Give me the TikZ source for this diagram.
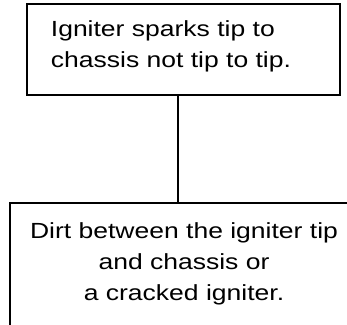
\documentclass[tikz,border=0pt]{standalone}
\usepackage{fontspec}
\setmainfont{Liberation Sans}[FakeStretch=1.21]
\begin{document}
\begin{tikzpicture}[x=1pt,y=1pt,
  boxstyle/.style={draw=black, line width=2pt, rectangle, inner sep=0pt},
  txt/.style={inner sep=0pt, font=\fontsize{21.9}{31}\selectfont},
  link/.style={draw=black, line width=2pt}]
\useasboundingbox (0,0) rectangle (347,324);
\clip (0,0) rectangle (347,324);
\node[boxstyle, minimum width=312.4pt, minimum height=90.7pt] (top) at (183.5,274.35) {};
\node[boxstyle, minimum width=348pt, minimum height=141.3pt] (bot) at (184,50.65) {};
\node[txt, align=left, anchor=north west] (toptext) at (50.7,304)
  {Igniter sparks tip to\\chassis not tip to tip.};
\node[txt, align=center, anchor=north] (bottext) at (184,101.5)
  {Dirt between the igniter tip\\and chassis or\\a cracked igniter.};
\draw[link] ([xshift=-5.8pt]top.south) -- ([xshift=-5.8pt]top.south |- bot.north);
\end{tikzpicture}
\end{document}
